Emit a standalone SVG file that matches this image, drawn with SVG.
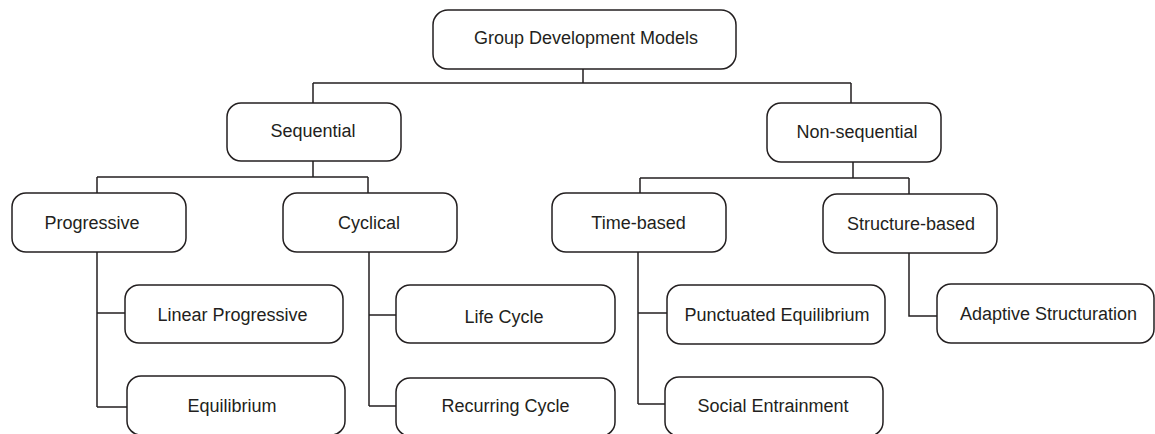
<svg xmlns="http://www.w3.org/2000/svg" width="1155" height="434" viewBox="0 0 1155 434">
  <style>
    .box { fill: #ffffff; stroke: #231f20; stroke-width: 1.5; }
    .lbl { font-family: "Liberation Sans", Arial, sans-serif; font-size: 18px; fill: #231f20; text-anchor: middle; }
    .wire { fill: none; stroke: #231f20; stroke-width: 1.5; }
  </style>
  <rect width="1155" height="434" fill="#ffffff"/>

  <g id="connectors">
    <!-- root to level 1 -->
    <path class="wire" d="M583 69 V83 M313 83 H851 M313 83 V103 M851 83 V103"/>
    <!-- Sequential to its children -->
    <path class="wire" d="M313 161 V177 M97 177 H368 M97 177 V193 M368 177 V193"/>
    <!-- Non-sequential to its children -->
    <path class="wire" d="M853 162 V178 M640 178 H909 M640 178 V193 M909 178 V194"/>
    <!-- Progressive leaves -->
    <path class="wire" d="M97 252 V407 M97 313 H125 M97 407 H127"/>
    <!-- Cyclical leaves -->
    <path class="wire" d="M369 252 V406 M369 315 H396 M369 406 H396"/>
    <!-- Time-based leaves -->
    <path class="wire" d="M638 252 V404 M638 313 H667 M638 404 H665"/>
    <!-- Structure-based leaf -->
    <path class="wire" d="M909 253 V316 H937"/>
  </g>

  <g id="root">
    <rect class="box" x="433" y="10" width="303" height="59" rx="15"/>
    <text class="lbl" x="586" y="44">Group Development Models</text>
  </g>
  <g id="sequential">
    <rect class="box" x="227" y="103" width="174" height="58" rx="14"/>
    <text class="lbl" x="313" y="137">Sequential</text>
  </g>
  <g id="non-sequential">
    <rect class="box" x="767" y="103" width="174" height="59" rx="14"/>
    <text class="lbl" x="857" y="138">Non-sequential</text>
  </g>
  <g id="progressive">
    <rect class="box" x="12" y="193" width="174" height="59" rx="14"/>
    <text class="lbl" x="92" y="228.5">Progressive</text>
  </g>
  <g id="cyclical">
    <rect class="box" x="283" y="193" width="174" height="59" rx="14"/>
    <text class="lbl" x="369" y="228.5">Cyclical</text>
  </g>
  <g id="time-based">
    <rect class="box" x="552" y="193" width="174" height="59" rx="14"/>
    <text class="lbl" x="638.5" y="228.5">Time-based</text>
  </g>
  <g id="structure-based">
    <rect class="box" x="823" y="194" width="174" height="59" rx="14"/>
    <text class="lbl" x="911" y="230">Structure-based</text>
  </g>
  <g id="linear-progressive">
    <rect class="box" x="125" y="285" width="218" height="58" rx="14"/>
    <text class="lbl" x="232.5" y="320.5">Linear Progressive</text>
  </g>
  <g id="equilibrium">
    <rect class="box" x="127" y="376" width="218" height="59" rx="14"/>
    <text class="lbl" x="232" y="411.5">Equilibrium</text>
  </g>
  <g id="life-cycle">
    <rect class="box" x="396" y="285" width="219" height="58" rx="14"/>
    <text class="lbl" x="504" y="323">Life Cycle</text>
  </g>
  <g id="recurring-cycle">
    <rect class="box" x="396" y="378" width="219" height="58" rx="14"/>
    <text class="lbl" x="505.5" y="411.5">Recurring Cycle</text>
  </g>
  <g id="punctuated-equilibrium">
    <rect class="box" x="667" y="285" width="218" height="59" rx="14"/>
    <text class="lbl" x="777" y="320.5">Punctuated Equilibrium</text>
  </g>
  <g id="social-entrainment">
    <rect class="box" x="665" y="377" width="218" height="59" rx="14"/>
    <text class="lbl" x="773" y="411.5">Social Entrainment</text>
  </g>
  <g id="adaptive-structuration">
    <rect class="box" x="937" y="284" width="217" height="59" rx="14"/>
    <text class="lbl" x="1048.5" y="319.5">Adaptive Structuration</text>
  </g>
</svg>
